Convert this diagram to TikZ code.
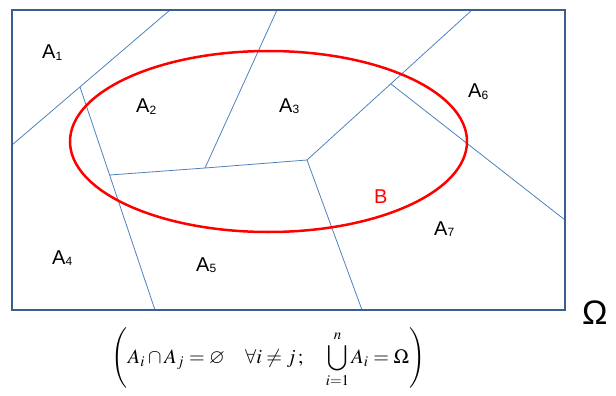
\documentclass[tikz,border=0pt]{standalone}
\usepackage{mathptmx}
\usepackage{amssymb}
\usepackage{graphicx}
\usepackage[no-math]{fontspec}
\usetikzlibrary{shapes.geometric}
\newfontfamily\arial{Liberation Sans}
\definecolor{edgeblue}{HTML}{4F81BD}
\definecolor{frameblue}{HTML}{3A5F8F}
\tikzset{
  part/.style={draw=edgeblue, line width=0.8pt},
  lab/.style={anchor=base west, inner sep=0pt, font=\arial\fontsize{20}{22}\selectfont},
}
\newcommand{\lbl}[1]{A{\fontsize{12}{14}\selectfont\raisebox{-1.5pt}{#1}}}
\begin{document}
\begin{tikzpicture}[x=1pt,y=-1pt]
\useasboundingbox (0,0) rectangle (616,396);
% corners and junctions
\coordinate (tl) at (12,10);
\coordinate (br) at (565,310);
\coordinate (t1) at (170,10);
\coordinate (l1) at (12,145);
\coordinate (p1) at (80,87);
\coordinate (b1) at (155,310);
\coordinate (p2) at (110,175);
\coordinate (c) at (307,160);
\coordinate (m) at (205,168);
\coordinate (t2) at (277,10);
\coordinate (t3) at (472,10);
\coordinate (p3) at (391,84);
\coordinate (r1) at (565,220);
\coordinate (b2) at (362,310);
% partition lines
\draw[part] (t1) -- (l1);
\draw[part] (p1) -- (b1);
\draw[part] (p2) -- (m) -- (c);
\draw[part] (m) -- (t2);
\draw[part] (c) -- (t3);
\draw[part] (p3) -- (r1);
\draw[part] (c) -- (b2);
% frame
\draw[frameblue, line width=2.5pt] (tl) rectangle (br);
% event B
\node[draw=red, line width=2.5pt, ellipse, minimum width=397pt, minimum height=181pt, inner sep=0pt] (B) at (268.5,141.5) {};
% labels
\node[lab] (a1) at (42,59) {\lbl{1}};
\node[lab] (a2) at (136,113) {\lbl{2}};
\node[lab] (a3) at (279,112) {\lbl{3}};
\node[lab] (a6) at (468,98) {\lbl{6}};
\node[lab] (a7) at (434,235) {\lbl{7}};
\node[lab] (a4) at (52,264) {\lbl{4}};
\node[lab] (a5) at (196,271) {\lbl{5}};
\node[lab, text=red] (bl) at (374,203) {B};
\node[anchor=base west, inner sep=0pt, font=\arial\fontsize{34}{36}\selectfont] (om) at (582,324) {Ω};
\node[inner sep=0pt] (f) at (268.5,358)
  {\resizebox{313pt}{!}{$\Biggl(A_i\cap A_j=\varnothing\quad\forall i\neq j\,;\quad\mathop{\displaystyle\bigcup}\limits_{i=1}^{n}A_i=\Omega\Biggr)$}};
\end{tikzpicture}
\end{document}
